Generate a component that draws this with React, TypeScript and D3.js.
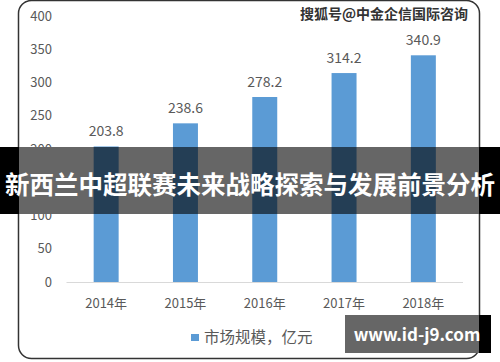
import React from "react";
import * as d3 from "d3";

const years = ["2014年", "2015年", "2016年", "2017年", "2018年"];
const marketSize = [203.8, 238.6, 278.2, 314.2, 340.9];
const yTicks = [0, 50, 100, 150, 200, 250, 300, 350, 400];
const legendLabel = "市场规模，亿元";
const title = "新西兰中超联赛未来战略探索与发展前景分析";
const sourceMark = "搜狐号@中金企信国际咨询";
const siteMark = "www.id-j9.com";

const W = 500;
const H = 362;
const FONT = "'Noto Sans CJK SC', 'Noto Sans', sans-serif";
const BAND_TOP = 147;
const BAND_BOTTOM = 214;

const App = () => {
  const x = d3.scaleBand<string>().domain(years).range([66.5, 463]).paddingInner(0.685).paddingOuter(0.3425);
  const y = d3.scaleLinear().domain([0, 400]).range([282, 16]);
  const blue = "#5b9bd5";
  const grey = "#595959";

  // ticks fully covered by the banner are not drawn; partly covered ones stay
  const visibleTicks = yTicks.filter((t) => y(t) - 7 < BAND_TOP || y(t) + 7 > BAND_BOTTOM);

  return (
    <svg width={W} height={H} style={{ position: "absolute", left: 0, top: 0 }}>
      <rect x={0} y={0} width={W} height={H} fill="#fff" />
      <rect x={18.5} y={0.5} width={461} height={358} rx={13} fill="#fff" stroke="#333" strokeWidth={1.5} />

      {visibleTicks.map((t) => (
        <text key={t} x={52} y={y(t)} dy="0.35em" textAnchor="end" fontSize={13} fill={grey} fontFamily={FONT}>
          {t}
        </text>
      ))}

      {years.map((yr, i) => (
        <g key={yr}>
          <rect x={x(yr)} y={y(marketSize[i])} width={x.bandwidth()} height={y(0) - y(marketSize[i])} fill={blue} />
          <text x={(x(yr) ?? 0) + x.bandwidth() / 2} y={y(marketSize[i]) - 10} textAnchor="middle" fontSize={14} fill={grey} fontFamily={FONT}>
            {marketSize[i]}
          </text>
          <text x={(x(yr) ?? 0) + x.bandwidth() / 2} y={308} textAnchor="middle" fontSize={13} fill={grey} fontFamily={FONT}>
            {yr}
          </text>
        </g>
      ))}
      <line x1={66.5} x2={463} y1={y(0) + 0.5} y2={y(0) + 0.5} stroke="#d9d9d9" strokeWidth={1} />

      <rect x={191} y={334} width={8} height={7} fill={blue} />
      <text x={204} y={338} dy="0.35em" fontSize={15.5} fill={grey} fontFamily={FONT}>
        {legendLabel}
      </text>

      <text x={468} y={14} dy="0.35em" textAnchor="end" fontSize={14} fontWeight="bold" fill="#333" fontFamily={FONT}>
        {sourceMark}
      </text>

      <rect x={0} y={BAND_TOP} width={W} height={BAND_BOTTOM - BAND_TOP} fill="#000" />
      <rect x={19} y={BAND_TOP} width={460} height={BAND_BOTTOM - BAND_TOP} fill="#fff" />
      {years.map((yr, i) => {
        const top = Math.max(y(marketSize[i]), BAND_TOP);
        return <rect key={yr} x={x(yr)} y={top} width={x.bandwidth()} height={BAND_BOTTOM - top} fill={blue} />;
      })}
      <rect x={19} y={BAND_TOP} width={460} height={BAND_BOTTOM - BAND_TOP} fill="#000" fillOpacity={0.6} />
      <text x={W / 2} y={185} dy="0.35em" textAnchor="middle" fontSize={24.5} fontWeight="bold" fill="#fff" fontFamily={FONT}>
        {title}
      </text>

      <rect x={345} y={315} width={146} height={38} fill="#000" />
      <rect x={345} y={315} width={134} height={38} fill="#fff" />
      <rect x={345} y={315} width={134} height={38} fill="#000" fillOpacity={0.6} />
      <text x={417} y={335} dy="0.35em" textAnchor="middle" fontSize={17} fontWeight="bold" fill="#fff" fontFamily={FONT}>
        {siteMark}
      </text>
    </svg>
  );
};

export default App;
